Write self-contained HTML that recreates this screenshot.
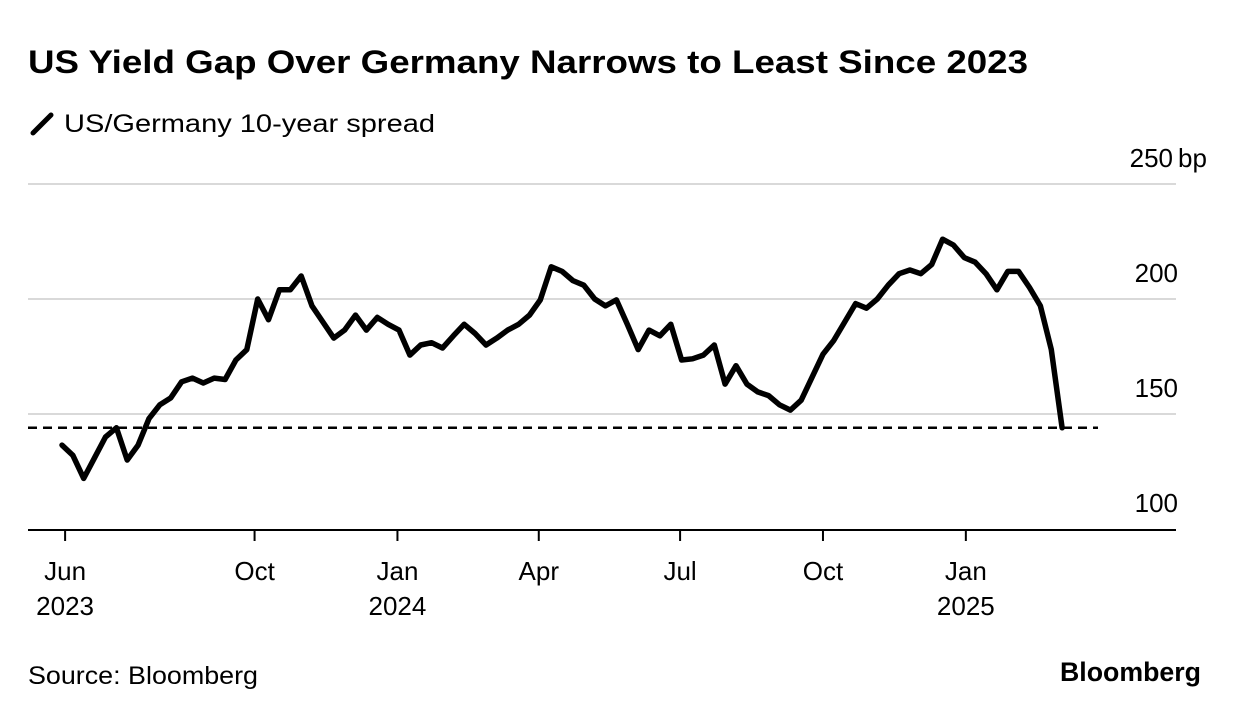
<!DOCTYPE html>
<html><head><meta charset="utf-8"><style>
body{margin:0;background:#fff;width:1240px;height:716px;overflow:hidden;font-family:"Liberation Sans",Arial,sans-serif;}
</style></head><body>
<svg id="c" width="1240" height="716" xmlns="http://www.w3.org/2000/svg">
<text x="28" y="73" font-size="32" font-weight="bold" fill="#000" textLength="1000" lengthAdjust="spacingAndGlyphs">US Yield Gap Over Germany Narrows to Least Since 2023</text>
<g>
<line x1="33" y1="133" x2="51" y2="115" stroke="#000" stroke-width="5" stroke-linecap="round"/>
<text x="64" y="132" font-size="25" fill="#000" textLength="371" lengthAdjust="spacingAndGlyphs">US/Germany 10-year spread</text>
</g>
<g id="grid"></g><g id="yl"></g><g id="xl"></g>
<g id="plot"></g>
<text x="28" y="684" font-size="25" fill="#000" textLength="230" lengthAdjust="spacingAndGlyphs">Source: Bloomberg</text>
<text x="1201" y="681" font-size="27" font-weight="bold" text-anchor="end" fill="#000" textLength="141" lengthAdjust="spacingAndGlyphs">Bloomberg</text>
</svg>
<script>
const startDate = "2023-05-30";
const spreadValues = [136.5,132,122,131,140,144,130,136.5,148,154,157,164,165.6,163.5,165.6,165,173.5,178,200,191,204,204,210,197,190,183,186.5,193,186.5,192,189,186.5,175.6,180,181,178.7,184,189,185,180,183,186.5,189,193,199.6,214,212,208,206,200,197,199.6,189,178,186.5,184,189,173.5,174,175.6,180,163,171,163,159.6,158,154,151.7,156,166,176,182,190,198,196,200,206,211,212.6,211,215,226,223.5,218,216,211,204,212,212,205,197,178,144];
const yTicks = [100,150,200,250];
const xTickDates = ["2023-06-01","2023-10-01","2024-01-01","2024-04-01","2024-07-01","2024-10-01","2025-01-01"];
const xTickLabels = [["Jun","2023"],["Oct",""],["Jan","2024"],["Apr",""],["Jul",""],["Oct",""],["Jan","2025"]];
const refLevel = 144;

const NS="http://www.w3.org/2000/svg";
const d0=Date.parse(startDate);
const dayOf=s=>(Date.parse(s)-d0)/86400000;
const xS=d=>62+d*1.553;
const yS=v=>529-(v-100)*2.3;
function mk(t,a,p){const e=document.createElementNS(NS,t);for(const k in a)e.setAttribute(k,a[k]);p.appendChild(e);return e;}
const grid=document.getElementById('grid'),yl=document.getElementById('yl'),xl=document.getElementById('xl'),plot=document.getElementById('plot');
yTicks.forEach((v,i)=>{
  if(v>100){const g=mk('line',{x1:28,x2:1176,y1:yS(v),y2:yS(v),stroke:'#d9d9d9','stroke-width':2},grid);
  
  }
  const t=mk('text',{x:1178,y:yS(v)-17,'font-size':26,'text-anchor':'end',fill:'#000'},yl);
  t.textContent=String(v);
  
  
  if(i===yTicks.length-1){t.setAttribute('x',1173);const u=mk('text',{x:1178,y:yS(v)-17,'font-size':26,fill:'#000'},yl);u.textContent='bp';
  
  }
});
const ax=mk('line',{x1:28,x2:1176,y1:530,y2:530,stroke:'#000','stroke-width':2},grid);


xTickDates.forEach((s,i)=>{
  const x=xS(dayOf(s));
  const tk=mk('line',{x1:x,x2:x,y1:530,y2:541,stroke:'#000','stroke-width':2},xl);
  
  
  const t=mk('text',{x:x,y:580,'font-size':26,'text-anchor':'middle',fill:'#000'},xl);
  t.textContent=xTickLabels[i][0];
  
  
  if(xTickLabels[i][1]){const t2=mk('text',{x:x,y:615,'font-size':26,'text-anchor':'middle',fill:'#000'},xl);t2.textContent=xTickLabels[i][1];
  
  }
});
const ref=mk('line',{x1:28,x2:1098,y1:yS(refLevel),y2:yS(refLevel),stroke:'#000','stroke-width':2.5,'stroke-dasharray':'9 6'},plot);


const pts=spreadValues.map((v,i)=>xS(i*7).toFixed(1)+','+yS(v).toFixed(1)).join(' ');
const ln=mk('polyline',{points:pts,fill:'none',stroke:'#000','stroke-width':5.5,'stroke-linejoin':'round','stroke-linecap':'round'},plot);


</script>
</body></html>
